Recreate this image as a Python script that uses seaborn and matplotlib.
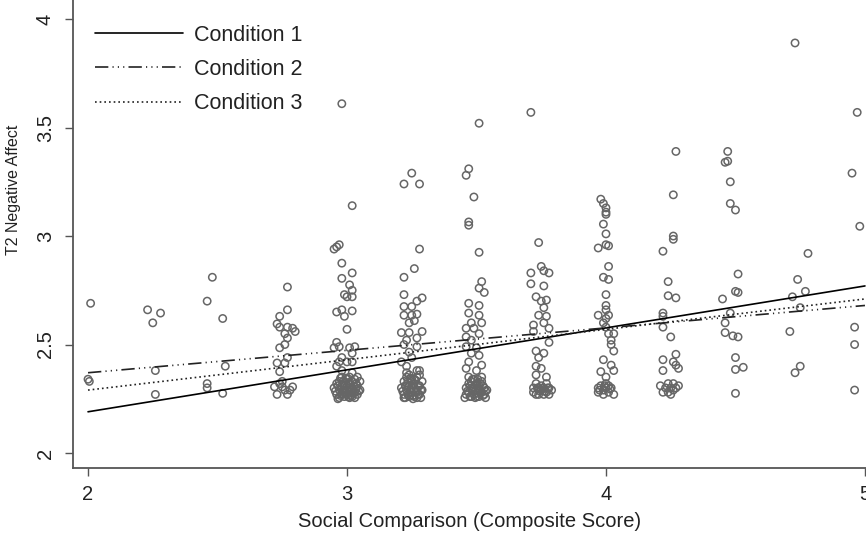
import pandas as pd
import numpy as np
import matplotlib.pyplot as plt
import seaborn as sns

sns.set_style("white")
plt.rcParams['font.family'] = ['Liberation Sans', 'DejaVu Sans']

# regression lines (endpoints at x = 2 and x = 5)
line_x = [2, 5]
cond1_y = [2.19, 2.77]
cond2_y = [2.37, 2.68]
cond3_y = [2.29, 2.71]

# scatter points, read column by column (x includes the jitter)
pts_200 = [(2.01, 2.69), (2.00, 2.34), (2.005, 2.33)]
pts_225 = [(2.23, 2.66), (2.25, 2.60), (2.28, 2.645), (2.26, 2.38), (2.26, 2.27)]
pts_250 = [(2.48, 2.81), (2.46, 2.70), (2.52, 2.62), (2.53, 2.40), (2.46, 2.32),
           (2.46, 2.30), (2.52, 2.275)]
pts_275 = [(2.77, 2.765), (2.77, 2.66), (2.74, 2.63), (2.73, 2.595), (2.74, 2.58),
           (2.77, 2.58), (2.79, 2.575), (2.80, 2.56), (2.76, 2.55), (2.77, 2.53),
           (2.76, 2.50), (2.74, 2.485), (2.77, 2.44), (2.73, 2.415), (2.76, 2.415),
           (2.74, 2.375), (2.74, 2.32), (2.72, 2.305), (2.75, 2.305), (2.79, 2.305),
           (2.73, 2.27), (2.77, 2.27), (2.76, 2.29), (2.78, 2.29), (2.75, 2.33)]
pts_300 = [(2.98, 3.61), (3.02, 3.14), (2.96, 2.95), (2.97, 2.96), (2.95, 2.94),
           (2.98, 2.875), (2.98, 2.805), (3.02, 2.83), (3.01, 2.775), (3.02, 2.75),
           (2.99, 2.73), (3.02, 2.72), (3.00, 2.72), (2.96, 2.65), (2.98, 2.66),
           (2.99, 2.63), (3.02, 2.655), (3.00, 2.57), (2.96, 2.51), (2.97, 2.49),
           (2.95, 2.485), (3.01, 2.485), (3.03, 2.49), (3.02, 2.46), (2.98, 2.44),
           (2.97, 2.42), (3.00, 2.42), (3.02, 2.42), (2.96, 2.40), (2.98, 2.38),
           (3.02, 2.37),
           (2.95, 2.30), (2.96, 2.27), (2.97, 2.33), (2.97, 2.29), (2.98, 2.35),
           (2.98, 2.27), (2.99, 2.31), (2.99, 2.26), (3.00, 2.34), (3.00, 2.29),
           (3.00, 2.27), (3.01, 2.35), (3.01, 2.32), (3.01, 2.28), (3.02, 2.30),
           (3.02, 2.26), (3.03, 2.34), (3.03, 2.28), (3.04, 2.31), (3.04, 2.27),
           (3.05, 2.33), (3.05, 2.29), (2.96, 2.32), (2.98, 2.31), (3.02, 2.33),
           (3.00, 2.31), (3.04, 2.35), (2.97, 2.255), (3.01, 2.255), (2.99, 2.29)]
blob_300 = [(2.955, 2.285), (2.965, 2.31), (2.975, 2.265), (2.985, 2.29), (2.985, 2.33),
            (2.995, 2.275), (3.005, 2.30), (3.005, 2.325), (3.015, 2.265), (3.015, 2.29),
            (3.025, 2.31), (3.025, 2.275), (3.035, 2.295), (3.035, 2.32), (3.045, 2.285),
            (2.995, 2.345), (3.005, 2.26), (2.975, 2.345), (3.03, 2.255), (2.965, 2.25)]
pts_325 = [(3.25, 3.29), (3.22, 3.24), (3.28, 3.24), (3.28, 2.94), (3.26, 2.85),
           (3.22, 2.81), (3.22, 2.73), (3.29, 2.715), (3.22, 2.675), (3.25, 2.675),
           (3.27, 2.70), (3.22, 2.635), (3.25, 2.635), (3.27, 2.64), (3.24, 2.60),
           (3.26, 2.61), (3.29, 2.56), (3.21, 2.555), (3.24, 2.555), (3.23, 2.52),
           (3.27, 2.53), (3.22, 2.50), (3.27, 2.49), (3.24, 2.465), (3.25, 2.44),
           (3.28, 2.38), (3.21, 2.42), (3.23, 2.40),
           (3.21, 2.30), (3.22, 2.27), (3.22, 2.33), (3.23, 2.29), (3.23, 2.35),
           (3.24, 2.26), (3.24, 2.31), (3.25, 2.28), (3.25, 2.34), (3.25, 2.30),
           (3.26, 2.26), (3.26, 2.32), (3.27, 2.29), (3.27, 2.35), (3.28, 2.27),
           (3.28, 2.31), (3.29, 2.33), (3.29, 2.29), (3.24, 2.36), (3.26, 2.34),
           (3.22, 2.255), (3.27, 2.255), (3.23, 2.31), (3.28, 2.36)]
blob_325 = [(3.215, 2.285), (3.225, 2.31), (3.235, 2.27), (3.235, 2.33), (3.245, 2.29),
            (3.255, 2.265), (3.255, 2.315), (3.265, 2.285), (3.265, 2.335), (3.275, 2.27),
            (3.275, 2.31), (3.285, 2.29), (3.245, 2.345), (3.255, 2.25), (3.225, 2.255),
            (3.285, 2.255), (3.23, 2.37), (3.27, 2.38)]
pts_350 = [(3.51, 3.52), (3.47, 3.31), (3.46, 3.28), (3.49, 3.18), (3.47, 3.065),
           (3.47, 3.05), (3.51, 2.925), (3.52, 2.79), (3.51, 2.76), (3.53, 2.74),
           (3.47, 2.69), (3.51, 2.68), (3.47, 2.645), (3.51, 2.635), (3.48, 2.60),
           (3.52, 2.60), (3.46, 2.575), (3.49, 2.575), (3.51, 2.55), (3.46, 2.535),
           (3.48, 2.52), (3.46, 2.49), (3.50, 2.485), (3.48, 2.46), (3.51, 2.45),
           (3.47, 2.42), (3.52, 2.405), (3.46, 2.39), (3.50, 2.38),
           (3.46, 2.30), (3.46, 2.27), (3.47, 2.32), (3.47, 2.28), (3.48, 2.33),
           (3.48, 2.26), (3.49, 2.30), (3.49, 2.27), (3.50, 2.32), (3.50, 2.29),
           (3.51, 2.26), (3.51, 2.31), (3.52, 2.28), (3.52, 2.33), (3.53, 2.30),
           (3.53, 2.27), (3.54, 2.29), (3.48, 2.30), (3.50, 2.26), (3.47, 2.35),
           (3.52, 2.35), (3.49, 2.34)]
blob_350 = [(3.465, 2.285), (3.475, 2.31), (3.475, 2.26), (3.485, 2.285), (3.495, 2.315),
            (3.495, 2.255), (3.505, 2.275), (3.505, 2.30), (3.515, 2.32), (3.515, 2.285),
            (3.525, 2.265), (3.525, 2.31), (3.535, 2.285), (3.485, 2.34), (3.505, 2.34),
            (3.535, 2.255), (3.455, 2.255)]
pts_375 = [(3.71, 3.57), (3.74, 2.97), (3.71, 2.83), (3.75, 2.86), (3.76, 2.84),
           (3.78, 2.83), (3.71, 2.78), (3.76, 2.77), (3.73, 2.72), (3.77, 2.705),
           (3.75, 2.70), (3.76, 2.67), (3.74, 2.635), (3.77, 2.63), (3.76, 2.60),
           (3.72, 2.59), (3.78, 2.575), (3.72, 2.56), (3.78, 2.51), (3.73, 2.47),
           (3.76, 2.46), (3.74, 2.44), (3.73, 2.40), (3.75, 2.39), (3.73, 2.36),
           (3.77, 2.35),
           (3.72, 2.30), (3.72, 2.28), (3.73, 2.32), (3.74, 2.27), (3.74, 2.30),
           (3.75, 2.29), (3.75, 2.31), (3.76, 2.27), (3.76, 2.30), (3.77, 2.28),
           (3.77, 2.32), (3.78, 2.30), (3.79, 2.29), (3.73, 2.27), (3.78, 2.27),
           (3.745, 2.285), (3.755, 2.30), (3.765, 2.285), (3.735, 2.30), (3.775, 2.30)]
pts_400 = [(3.98, 3.17), (3.99, 3.15), (4.00, 3.13), (4.00, 3.11), (4.00, 3.10),
           (3.99, 3.055), (4.00, 3.01), (3.97, 2.945), (4.00, 2.96), (4.01, 2.955),
           (4.01, 2.86), (3.99, 2.81), (4.01, 2.80), (4.00, 2.73), (4.00, 2.68),
           (4.00, 2.66), (3.97, 2.635), (4.01, 2.635), (4.00, 2.62), (3.99, 2.60),
           (4.00, 2.58), (4.01, 2.55), (4.03, 2.55), (4.02, 2.52), (4.02, 2.50),
           (4.03, 2.47), (3.99, 2.43), (4.02, 2.405), (3.98, 2.375), (4.03, 2.38),
           (4.00, 2.35),
           (3.97, 2.30), (3.97, 2.28), (3.98, 2.31), (3.99, 2.27), (4.00, 2.30),
           (4.00, 2.32), (4.01, 2.28), (4.02, 2.30), (4.03, 2.27), (3.99, 2.29),
           (4.01, 2.31), (3.975, 2.29), (4.015, 2.295), (3.995, 2.31)]
pts_425 = [(4.27, 3.39), (4.26, 3.19), (4.26, 3.00), (4.26, 2.985), (4.22, 2.93),
           (4.24, 2.79), (4.24, 2.725), (4.27, 2.715), (4.22, 2.645), (4.22, 2.63),
           (4.22, 2.58), (4.25, 2.535), (4.27, 2.455), (4.22, 2.43), (4.26, 2.42),
           (4.27, 2.405), (4.28, 2.39), (4.22, 2.38),
           (4.21, 2.31), (4.22, 2.28), (4.23, 2.30), (4.24, 2.32), (4.24, 2.28),
           (4.25, 2.30), (4.26, 2.29), (4.26, 2.32), (4.27, 2.30), (4.28, 2.31),
           (4.25, 2.27)]
pts_450 = [(4.47, 3.39), (4.47, 3.345), (4.46, 3.34), (4.48, 3.25), (4.48, 3.15),
           (4.50, 3.12), (4.51, 2.825), (4.51, 2.74), (4.50, 2.745), (4.45, 2.71),
           (4.48, 2.645), (4.46, 2.60), (4.46, 2.555), (4.49, 2.54), (4.51, 2.535),
           (4.50, 2.44), (4.50, 2.385), (4.53, 2.395), (4.50, 2.275)]
pts_475 = [(4.73, 3.89), (4.78, 2.92), (4.74, 2.80), (4.77, 2.745), (4.72, 2.72),
           (4.75, 2.67), (4.71, 2.56), (4.75, 2.40), (4.73, 2.37)]
pts_500 = [(4.97, 3.57), (4.95, 3.29), (4.98, 3.045), (4.96, 2.58), (4.96, 2.50),
           (4.96, 2.29)]

all_pts = (pts_200 + pts_225 + pts_250 + pts_275 + pts_300 + blob_300 + pts_325
           + blob_325 + pts_350 + blob_350 + pts_375 + pts_400 + pts_425
           + pts_450 + pts_475 + pts_500)
df = pd.DataFrame(all_pts, columns=['sc', 'na'])

fig = plt.figure(figsize=(8.66, 5.33), dpi=100)
ax = fig.add_axes([0.0843, 0.122, 0.9157, 0.878])

sns.scatterplot(data=df, x='sc', y='na', ax=ax, marker='o', s=28,
                facecolor='none', edgecolor='#666666', linewidth=1.1,
                legend=False, clip_on=False, zorder=2)

sns.lineplot(x=line_x, y=cond1_y, ax=ax, color='black', linewidth=1.2,
             label='Condition 1', zorder=3)
sns.lineplot(x=line_x, y=cond2_y, ax=ax, color='#222222', linewidth=1.2,
             label='Condition 2', zorder=3)
sns.lineplot(x=line_x, y=cond3_y, ax=ax, color='#222222', linewidth=1.2,
             label='Condition 3', zorder=3)
ax.lines[1].set_dashes([8, 2.5, 0.7, 2.5, 0.7, 2.5, 0.7, 2.5])
ax.lines[2].set_dashes([1.0, 1.8])

ax.set_xlim(1.942, 5.004)
ax.set_ylim(1.931, 4.088)
ax.set_xticks([2, 3, 4, 5])
ax.set_yticks([2, 2.5, 3, 3.5, 4])
ax.set_yticklabels(['2', '2.5', '3', '3.5', '4'], rotation=90, va='center')
ax.set_xlabel('Social Comparison (Composite Score)', fontsize=14.5,
              color='#222222', labelpad=6)
ax.set_ylabel('T2 Negative Affect', fontsize=11.5, color='#222222')
ax.yaxis.set_label_coords(-0.066, 0.594)
ax.tick_params(axis='both', direction='out', length=6, width=1, color='#555555',
               labelsize=14.5, labelcolor='#222222', bottom=True, left=True)
ax.tick_params(axis='x', pad=6)
ax.tick_params(axis='y', pad=7)

for side in ['top', 'right']:
    ax.spines[side].set_visible(False)
for side in ['left', 'bottom']:
    ax.spines[side].set_color('#555555')
    ax.spines[side].set_linewidth(1.3)

leg = ax.legend(loc='upper left', bbox_to_anchor=(0.017, 0.966), frameon=False,
                fontsize=15.5, handlelength=4.1, labelspacing=0.62,
                handletextpad=0.5, borderaxespad=0)
for t in leg.get_texts():
    t.set_color('#222222')

fig.savefig('out.png', dpi=100)
